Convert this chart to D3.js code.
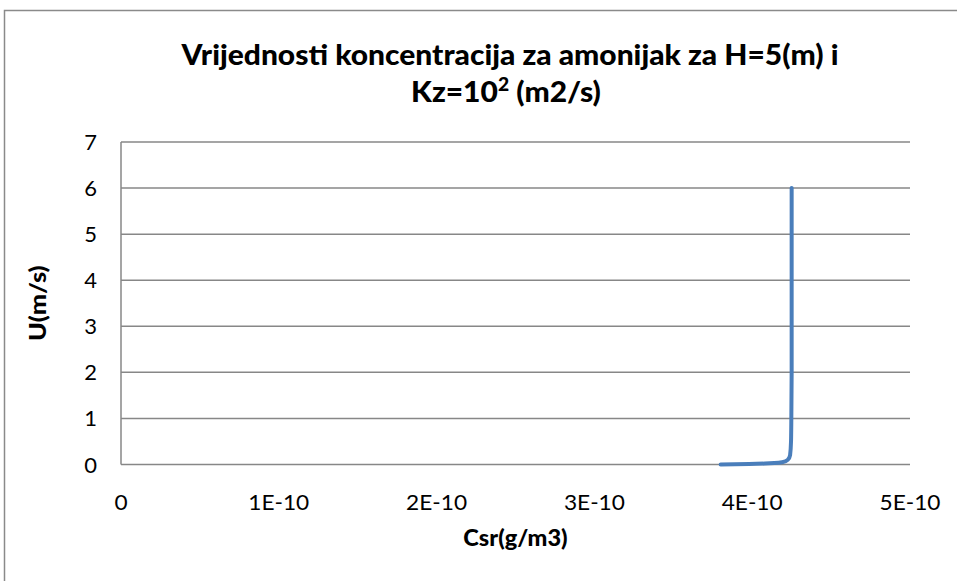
<!DOCTYPE html>
<html>
<head>
<meta charset="utf-8">
<script src="https://cdn.jsdelivr.net/npm/d3@7"></script>
<style>
  body { margin: 0; background: #fff; }
  text { font-family: Lato, "Open Sans", sans-serif; fill: #000; }
</style>
</head>
<body>
<svg id="chart" width="957" height="581"></svg>
<script>
// Mean ammonia concentration Csr (g/m3) against flow velocity U (m/s)
const concentration = [3.80e-10, 3.98e-10, 4.08e-10, 4.14e-10, 4.19e-10, 4.225e-10, 4.24e-10, 4.246e-10, 4.248e-10, 4.25e-10, 4.25e-10, 4.25e-10, 4.25e-10, 4.25e-10];
const velocity      = [0, 0.01, 0.02, 0.03, 0.05, 0.1, 0.2, 0.5, 1, 2, 3, 4, 5, 6];

const xTicks = [0, 1e-10, 2e-10, 3e-10, 4e-10, 5e-10];
const xTickLabels = ["0", "1E-10", "2E-10", "3E-10", "4E-10", "5E-10"];
const yTicks = [0, 1, 2, 3, 4, 5, 6, 7];

const titleLine1 = "Vrijednosti koncentracija za amonijak za H=5(m) i";
const titleLine2 = ["Kz=10", "2", " (m2/s)"];
const xTitle = "Csr(g/m3)";
const yTitle = "U(m/s)";

const svg = d3.select("#chart");
const W = 957, H = 581;
const plot = { left: 121, right: 910, top: 142, bottom: 464.5 };
const stretchX = 1.07;
const gridColor = "#878787";

// widen text along its baseline to the chart's proportions
function stretch(sel, k) {
  sel.each(function () {
    const w = this.getComputedTextLength();
    this.setAttribute("textLength", w * k);
    this.setAttribute("lengthAdjust", "spacingAndGlyphs");
  });
}

// outer chart frame (open at right and bottom)
svg.append("path")
  .attr("d", `M4.5,${H + 2} V10.5 H${W + 2}`)
  .attr("fill", "none")
  .attr("stroke", "#8a8a8a")
  .attr("stroke-width", 1.5);

const x = d3.scaleLinear().domain([0, 5e-10]).range([plot.left, plot.right]);
const y = d3.scaleLinear().domain([0, 7]).range([plot.bottom, plot.top]);

// horizontal gridlines
svg.append("g")
  .selectAll("line")
  .data(yTicks)
  .join("line")
  .attr("x1", plot.left).attr("x2", plot.right)
  .attr("y1", d => y(d)).attr("y2", d => y(d))
  .attr("stroke", gridColor)
  .attr("stroke-width", 1.5);

// vertical axis line
svg.append("line")
  .attr("x1", x(0)).attr("x2", x(0))
  .attr("y1", y(0)).attr("y2", y(7))
  .attr("stroke", gridColor)
  .attr("stroke-width", 1.5);

// y tick labels
svg.append("g")
  .selectAll("text")
  .data(yTicks)
  .join("text")
  .attr("x", 97)
  .attr("y", d => y(d) + 8)
  .attr("text-anchor", "end")
  .attr("font-size", 22)
  .text(d => d);

// x tick labels
const xLab = svg.append("g")
  .selectAll("text")
  .data(xTicks)
  .join("text")
  .attr("x", d => x(d))
  .attr("y", 510)
  .attr("text-anchor", "middle")
  .attr("font-size", 22)
  .text((d, i) => xTickLabels[i]);
stretch(xLab, 1.03);

// data line
const line = d3.line()
  .x((d, i) => x(concentration[i]))
  .y(d => y(d))
  .curve(d3.curveMonotoneY);

svg.append("path")
  .datum(velocity)
  .attr("d", line)
  .attr("fill", "none")
  .attr("stroke", "#4a7ebb")
  .attr("stroke-width", 4)
  .attr("stroke-linecap", "round")
  .attr("stroke-linejoin", "round");

// chart title
const t1 = svg.append("text")
  .attr("x", 510).attr("y", 65)
  .attr("text-anchor", "middle")
  .attr("font-size", 28)
  .attr("font-weight", 900)
  .text(titleLine1);
stretch(t1, stretchX);

const t2 = svg.append("text")
  .attr("x", 506).attr("y", 102)
  .attr("text-anchor", "middle")
  .attr("font-size", 28)
  .attr("font-weight", 900);
t2.append("tspan").text(titleLine2[0]);
t2.append("tspan").attr("font-size", 18).attr("dy", -11).text(titleLine2[1]);
t2.append("tspan").attr("dy", 11).text(titleLine2[2]);
stretch(t2, stretchX);

// axis titles
const xt = svg.append("text")
  .attr("x", (plot.left + plot.right) / 2).attr("y", 546)
  .attr("text-anchor", "middle")
  .attr("font-size", 22)
  .attr("font-weight", 900)
  .text(xTitle);
stretch(xt, stretchX);

const yt = svg.append("text")
  .attr("transform", `translate(46,${(plot.top + plot.bottom) / 2}) rotate(-90)`)
  .attr("text-anchor", "middle")
  .attr("font-size", 22)
  .attr("font-weight", 900)
  .text(yTitle);
stretch(yt, 1.15);
</script>
</body>
</html>
